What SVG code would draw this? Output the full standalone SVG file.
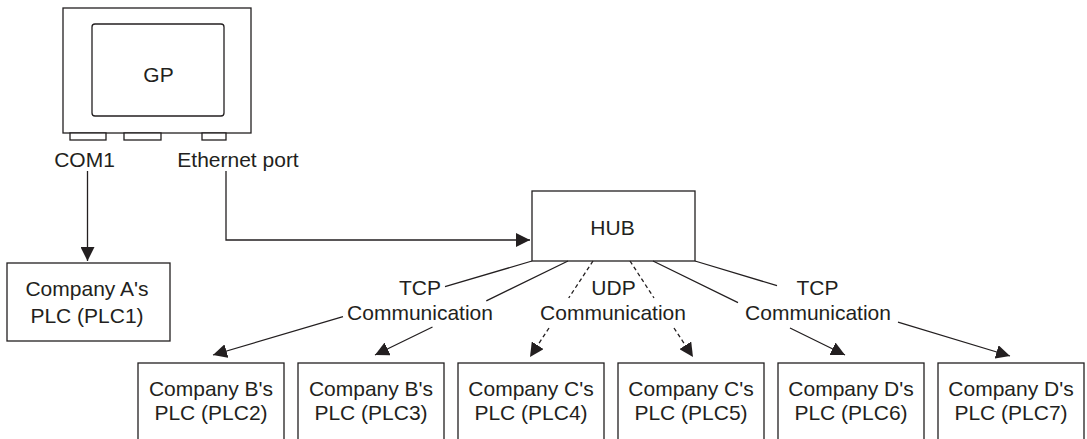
<svg xmlns="http://www.w3.org/2000/svg" width="1087" height="439" viewBox="0 0 1087 439">
<style>
.box{fill:#fff;stroke:#231f20;stroke-width:1.3}
.ln{fill:none;stroke:#231f20;stroke-width:1.3}
.dash{stroke-dasharray:4 3}
text{font-family:"Liberation Sans",Arial,sans-serif;font-size:21px;fill:#231f20;text-anchor:middle}
</style>
<defs>
<marker id="ah" markerUnits="userSpaceOnUse" markerWidth="14" markerHeight="14" refX="14" refY="7" orient="auto" viewBox="0 0 14 14">
<path d="M0,0 L14,7 L0,14 z" fill="#231f20"/>
</marker>
</defs>
<rect width="1087" height="439" fill="#fff"/>
<g id="gp">
<rect class="box" x="63" y="8" width="188" height="125"/>
<rect class="box" x="92" y="24" width="132" height="92" rx="3"/>
<rect class="box" x="70" y="133" width="36" height="7"/>
<rect class="box" x="124" y="133" width="37" height="7"/>
<rect class="box" x="202" y="133" width="24" height="7"/>
<text x="158.5" y="82">GP</text>
<text x="84.5" y="167">COM1</text>
<text x="238" y="167">Ethernet port</text>
</g>
<g id="plc1">
<rect class="box" x="7" y="263" width="163" height="78"/>
<text x="87" y="296">Company A's</text>
<text x="87" y="323">PLC (PLC1)</text>
</g>
<g id="hub">
<rect class="box" x="532" y="191" width="163" height="70"/>
<text x="612.5" y="235">HUB</text>
</g>
<g id="plc2"><rect class="box" x="138" y="363" width="146" height="90"/><text x="211" y="396">Company B's</text><text x="211" y="420">PLC (PLC2)</text></g>
<g id="plc3"><rect class="box" x="298" y="363" width="146" height="90"/><text x="371" y="396">Company B's</text><text x="371" y="420">PLC (PLC3)</text></g>
<g id="plc4"><rect class="box" x="458" y="363" width="146" height="90"/><text x="531" y="396">Company C's</text><text x="531" y="420">PLC (PLC4)</text></g>
<g id="plc5"><rect class="box" x="618" y="363" width="146" height="90"/><text x="691" y="396">Company C's</text><text x="691" y="420">PLC (PLC5)</text></g>
<g id="plc6"><rect class="box" x="778" y="363" width="146" height="90"/><text x="851" y="396">Company D's</text><text x="851" y="420">PLC (PLC6)</text></g>
<g id="plc7"><rect class="box" x="938" y="363" width="146" height="90"/><text x="1011" y="396">Company D's</text><text x="1011" y="420">PLC (PLC7)</text></g>
<g id="connectors">
<path class="ln" d="M87.5,171 V261" marker-end="url(#ah)"/>
<path class="ln" d="M226,171 V240 H530" marker-end="url(#ah)"/>
<path class="ln" d="M532,261 L445,286.6 M343,316.7 L213,355" marker-end="url(#ah)"/>
<path class="ln" d="M568,261 L486.3,300.8 M432.5,327 L375,355" marker-end="url(#ah)"/>
<path class="ln dash" d="M593,261 L568.7,298 M549,328 L530,357" marker-end="url(#ah)"/>
<path class="ln dash" d="M630,261 L654,298 M674,328 L693,357" marker-end="url(#ah)"/>
<path class="ln" d="M653,261 L738,302.6 M790,328 L845,355" marker-end="url(#ah)"/>
<path class="ln" d="M695,261 L777,285.7 M898,322.2 L1010,356" marker-end="url(#ah)"/>
</g>
<g id="labels">
<text x="420" y="295">TCP</text>
<text x="420" y="320">Communication</text>
<text x="613.5" y="295">UDP</text>
<text x="613" y="320">Communication</text>
<text x="817.5" y="295">TCP</text>
<text x="818" y="320">Communication</text>
</g>
</svg>
